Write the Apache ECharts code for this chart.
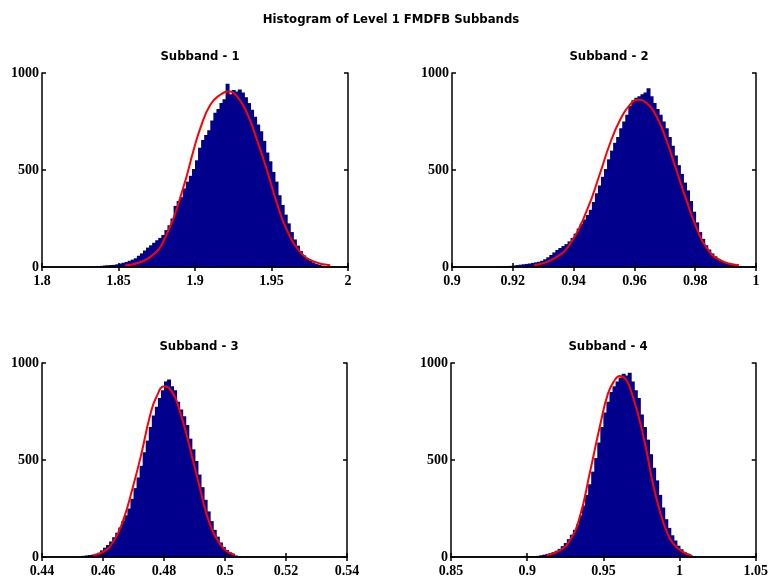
<!DOCTYPE html>
<html>
<head>
<meta charset="utf-8">
<script src="https://cdn.jsdelivr.net/npm/echarts@6/dist/echarts.min.js"></script>
<style>
  html, body { margin: 0; padding: 0; background: #fff; }
  #main { width: 771px; height: 584px; }
</style>
</head>
<body>
<div id="main"></div>
<script>
// histogram counts (bin start + bin width per subband)
var binStart1 = 1.834, binWidth1 = 0.002;
var counts1 = [2, 4, 6, 8, 9, 10, 11, 14, 18, 22, 26, 32, 38, 45, 58, 70, 85, 100, 112, 125,
  138, 150, 165, 190, 215, 250, 315, 340, 360, 405, 440, 470, 505, 550, 615, 655, 680, 705, 755, 795,
  815, 845, 865, 945, 890, 912, 905, 915, 900, 875, 845, 810, 775, 735, 700, 650, 590, 545, 490, 440,
  370, 320, 270, 225, 180, 142, 110, 82, 60, 45, 34, 24, 17, 12, 7, 4, 2];

var binStart2 = 0.915, binWidth2 = 0.001;
var counts2 = [2, 3, 4, 5, 6, 8, 10, 12, 14, 16, 18, 21, 24, 27, 32, 40, 50, 62, 75, 88,
  98, 108, 118, 132, 150, 172, 198, 222, 245, 268, 295, 335, 380, 420, 465, 505, 555, 600, 640, 670,
  715, 750, 785, 830, 860, 872, 880, 890, 900, 922, 880, 845, 815, 785, 750, 715, 670, 625, 575, 525,
  480, 435, 395, 340, 285, 230, 180, 145, 112, 90, 70, 55, 42, 32, 24, 18, 13, 10, 7, 4, 2];

var binStart3 = 0.452, binWidth3 = 0.001;
var counts3 = [3, 6, 8, 10, 12, 15, 22, 34, 48, 62, 80, 102, 125, 152, 185, 215, 250, 300, 355, 410,
  470, 540, 600, 670, 730, 775, 820, 860, 905, 915, 880, 860, 800, 760, 725, 680, 610, 555, 495, 425,
  360, 295, 235, 185, 140, 105, 75, 52, 36, 24, 15, 8, 3];

var binStart4 = 0.898, binWidth4 = 0.002;
var counts4 = [6, 4, 3, 4, 6, 9, 12, 16, 20, 25, 32, 42, 56, 72, 92, 115, 140, 168, 215, 265,
  320, 375, 440, 510, 590, 670, 745, 800, 850, 880, 905, 925, 945, 935, 950, 905, 860, 820, 735, 670,
  605, 530, 460, 395, 320, 255, 195, 150, 112, 85, 58, 40, 26, 16, 9, 4];

// fitted curves (red)
var fitX1 = [1.8544, 1.8708, 1.8817, 1.8925, 1.8991, 1.9035, 1.91, 1.9165, 1.922, 1.9275, 1.934, 1.9405, 1.947, 1.9536, 1.9601, 1.9688, 1.9775, 1.9884];
var fitY1 = [9, 52, 172, 414, 603, 716, 836, 888, 905, 879, 793, 655, 500, 328, 190, 78, 29, 9];
var fitX2 = [0.927, 0.9335, 0.9389, 0.9444, 0.9487, 0.952, 0.9553, 0.9585, 0.9612, 0.964, 0.9673, 0.9705, 0.9738, 0.9771, 0.9803, 0.9836, 0.9879, 0.9944];
var fitY2 = [9, 43, 121, 293, 483, 638, 759, 836, 862, 845, 776, 655, 500, 345, 207, 103, 38, 9];
var fitX3 = [0.4567, 0.46, 0.4633, 0.4666, 0.4698, 0.4726, 0.4753, 0.4775, 0.4802, 0.483, 0.4851, 0.4873, 0.4895, 0.4917, 0.4939, 0.4961, 0.4983, 0.5005, 0.5032];
var fitY3 = [9, 26, 77, 189, 361, 533, 722, 825, 880, 842, 756, 636, 498, 361, 223, 129, 69, 31, 12];
var fitX4 = [0.9127, 0.9214, 0.928, 0.9345, 0.941, 0.9476, 0.953, 0.9574, 0.9607, 0.9651, 0.9694, 0.9738, 0.9782, 0.9825, 0.9869, 0.9913, 0.9956, 1.0022, 1.0077];
var fitY4 = [9, 34, 86, 206, 430, 670, 842, 911, 933, 911, 825, 704, 550, 378, 241, 137, 72, 26, 9];

// axis ranges and tick steps
var xRanges = [[1.8, 2, 0.05], [0.9, 1, 0.02], [0.44, 0.54, 0.02], [0.85, 1.05, 0.05]];
var yTicks = [0, 500, 1000];
var titles = ['Subband - 1', 'Subband - 2', 'Subband - 3', 'Subband - 4'];

var chart = echarts.init(document.getElementById('main'));

var grids = [
  { left: 42, top: 73, width: 306, height: 194 },
  { left: 452, top: 73, width: 304, height: 194 },
  { left: 42, top: 363, width: 305, height: 194 },
  { left: 451, top: 363, width: 305, height: 194 }
];

var hists = [
  [binStart1, binWidth1, counts1],
  [binStart2, binWidth2, counts2],
  [binStart3, binWidth3, counts3],
  [binStart4, binWidth4, counts4]
];
var fits = [[fitX1, fitY1], [fitX2, fitY2], [fitX3, fitY3], [fitX4, fitY4]];

var tickFont = { fontFamily: 'Liberation Serif', fontWeight: 'bold', fontSize: 14, color: '#000' };
var lineStyle = { color: '#000', width: 1.5 };
var plain = function (v) { return String(v); };

var xAxes = [], yAxes = [], series = [];
grids.forEach(function (g, i) {
  var r = xRanges[i];
  xAxes.push({
    type: 'value', gridIndex: i, min: r[0], max: r[1], interval: r[2], position: 'bottom',
    axisLine: { lineStyle: lineStyle }, axisTick: { inside: true, length: 4, lineStyle: lineStyle },
    axisLabel: Object.assign({ margin: 7, formatter: plain }, tickFont), splitLine: { show: false }, z: 10
  });
  xAxes.push({
    type: 'value', gridIndex: i, min: r[0], max: r[1], interval: r[2], position: 'top',
    axisLine: { lineStyle: lineStyle }, axisTick: { inside: true, length: 4, lineStyle: lineStyle },
    axisLabel: { show: false }, splitLine: { show: false }, z: 10
  });
  yAxes.push({
    type: 'value', gridIndex: i, min: yTicks[0], max: yTicks[2], interval: 500, position: 'left',
    axisLine: { show: true, lineStyle: lineStyle }, axisTick: { show: true, inside: true, length: 4, lineStyle: lineStyle },
    axisLabel: Object.assign({ margin: 3, formatter: plain }, tickFont), splitLine: { show: false }, z: 10
  });
  yAxes.push({
    type: 'value', gridIndex: i, min: yTicks[0], max: yTicks[2], interval: 500, position: 'right',
    axisLine: { show: true, lineStyle: lineStyle }, axisTick: { show: true, inside: true, length: 4, lineStyle: lineStyle },
    axisLabel: { show: false }, splitLine: { show: false }, z: 10
  });

  var h = hists[i];
  var bins = h[2].map(function (c, k) { return [h[0] + k * h[1], c]; });
  series.push({
    type: 'custom', xAxisIndex: i * 2, yAxisIndex: i * 2, clip: true,
    data: bins,
    renderItem: (function (w) {
      return function (params, api) {
        var x0 = api.value(0), c = api.value(1);
        var p0 = api.coord([x0, 0]);
        var p1 = api.coord([x0 + w, c]);
        return {
          type: 'rect',
          shape: { x: p0[0], y: p1[1], width: p1[0] - p0[0] + 0.9, height: p0[1] - p1[1] },
          style: { fill: '#00008c' }
        };
      };
    })(h[1])
  });

  var f = fits[i];
  series.push({
    type: 'line', xAxisIndex: i * 2, yAxisIndex: i * 2, smooth: true, symbol: 'none',
    lineStyle: { color: '#ff0000', width: 2 },
    data: f[0].map(function (x, k) { return [x, f[1][k]]; }),
    z: 5
  });
});

var titleFont = {
  fontFamily: "'Liberation Sans Narrow', 'DejaVu Sans Condensed', 'Liberation Sans', sans-serif",
  fontWeight: 'bold', fontSize: 13, color: '#000'
};
var titleOpts = [{ text: 'Histogram of Level 1 FMDFB Subbands', left: 386, top: 8, textAlign: 'center', textStyle: titleFont }];
var titlePos = [[195, 45], [604, 45], [194, 335], [603, 335]];
titles.forEach(function (t, i) {
  titleOpts.push({ text: t, left: titlePos[i][0], top: titlePos[i][1], textAlign: 'center', textStyle: titleFont });
});

chart.setOption({
  animation: false,
  title: titleOpts,
  grid: grids,
  xAxis: xAxes,
  yAxis: yAxes,
  series: series
});
</script>
</body>
</html>
